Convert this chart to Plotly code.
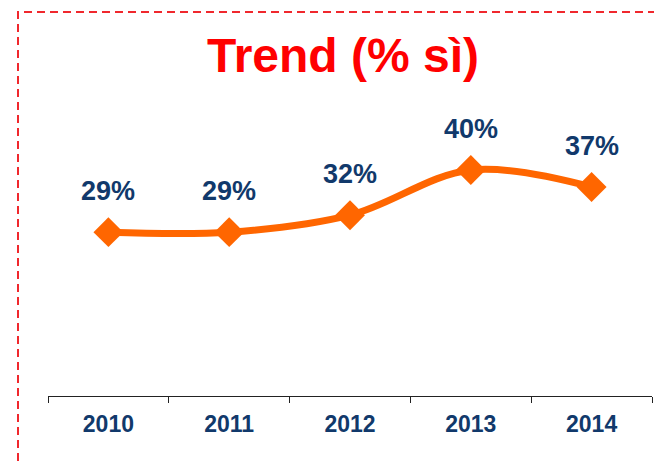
import plotly.graph_objects as go

years = ["2010", "2011", "2012", "2013", "2014"]
values = [29, 29, 32, 40, 37]
labels = ["29%", "29%", "32%", "40%", "37%"]
title_text = "Trend (% sì)"

ORANGE = "#FF6600"
NAVY = "#11396B"
RED = "#FF0000"
FONT = "Liberation Sans, Arial, sans-serif"

OFF = 8  # page body margin offset
W, H = 662, 461
# target page pixels of plot area: x 48..652, y 57..396
L = 48 - OFF
T = 57 - OFF
R = W - (652 - OFF)
B = H - (396 - OFF)
pw = W - L - R
ph = H - T - B

fig = go.Figure()
fig.add_trace(go.Scatter(
    x=years, y=values, mode="lines+markers",
    line=dict(color=ORANGE, width=7, shape="spline", smoothing=1),
    marker=dict(symbol="diamond", size=23, color=ORANGE),
    hoverinfo="skip", showlegend=False,
))

for i, (y, t) in enumerate(zip(values, labels)):
    fig.add_annotation(x=i, y=y, text="<b>" + t + "</b>", showarrow=False, yshift=41,
                       font=dict(family=FONT, size=27, color=NAVY))

fig.add_annotation(xref="paper", yref="paper",
                   x=(343 - 48) / pw, y=(396 - 55.5) / ph,
                   xanchor="center", yanchor="middle", showarrow=False,
                   text="<b>" + title_text + "</b>",
                   font=dict(family=FONT, size=48, color=RED))

# dashed frame (top & left edges visible)
fig.add_shape(type="rect", xref="paper", yref="paper",
              x0=(18 - 48) / pw, x1=(W + 60 - 48) / pw,
              y0=-(B + 60) / ph, y1=(396 - 12) / ph,
              line=dict(color="#F0282D", width=2, dash="8px,5px"),
              fillcolor="rgba(0,0,0,0)", layer="above")

fig.update_layout(
    width=W, height=H,
    margin=dict(l=L, r=R, t=T, b=B),
    paper_bgcolor="white", plot_bgcolor="white",
    font=dict(family=FONT),
)
fig.update_xaxes(
    type="category", tickson="boundaries", ticks="outside", ticklen=6,
    tickcolor="#222222", showline=True, linecolor="#222222", linewidth=1,
    showgrid=False, zeroline=False, range=[-0.5, len(years) - 0.5],
    tickfont=dict(family=FONT, size=23, color=NAVY),
    tickprefix="<b>", ticksuffix="</b>", ticklabelstandoff=7,
)
fig.update_yaxes(range=[0, 60], visible=False, showgrid=False, zeroline=False)

fig.write_html("out.html")
